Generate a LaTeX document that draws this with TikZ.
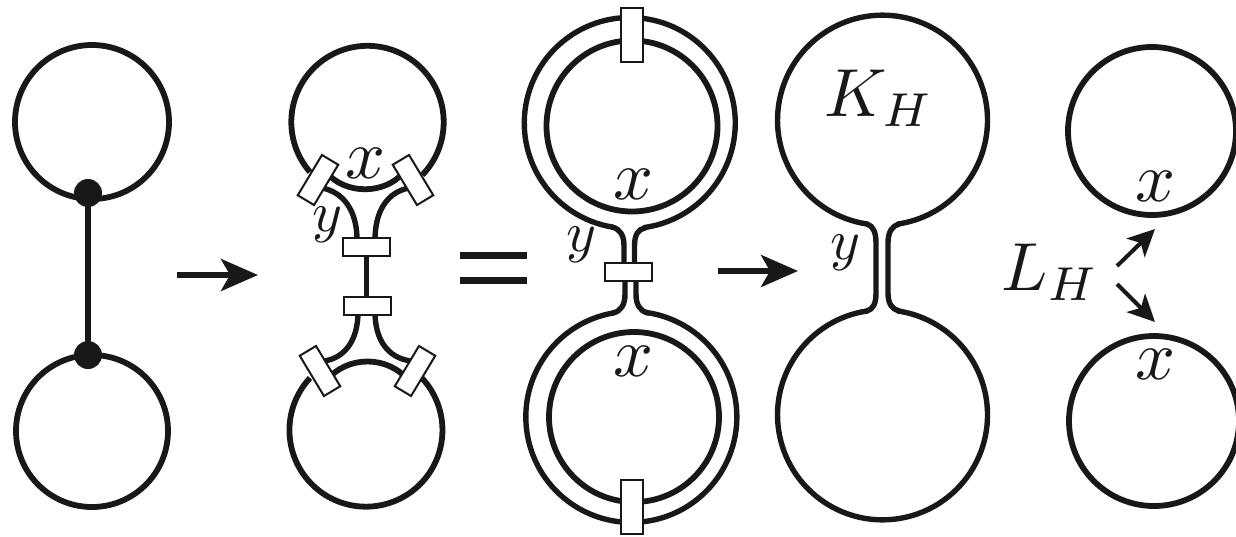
\documentclass[tikz,border=0pt]{standalone}
\usetikzlibrary{arrows.meta}
\definecolor{ink}{HTML}{1A1718}
\tikzset{
  wire/.style={draw=ink,line width=5.8pt},
  tube/.style={draw=ink,line width=5.4pt,line cap=round},
  junction/.style={circle,fill=ink,inner sep=0pt,minimum size=28pt},
  band/.style={draw=ink,fill=white,line width=2pt,inner sep=0pt,minimum width=47pt,minimum height=18pt},
  tiltband/.style={draw=ink,fill=white,line width=2pt,inner sep=0pt,minimum width=47pt,minimum height=19pt},
  vband/.style={draw=ink,fill=white,line width=2pt,inner sep=0pt,minimum width=22pt,minimum height=54pt},
  bigarrow/.style={draw=ink,line width=5.4pt,-{Stealth[length=37pt,width=32pt,inset=9pt]}},
  smallarrow/.style={draw=ink,line width=4pt,-{Stealth[length=27pt,width=26pt,inset=7pt]}},
  lab/.style={text=ink,inner sep=0pt,scale=7},
  laby/.style={text=ink,inner sep=0pt,scale=5.7},
  biglab/.style={text=ink,inner sep=0pt,scale=6.8},
}
\begin{document}
\begin{tikzpicture}[yscale=-1,x=1pt,y=1pt]
\useasboundingbox (0,0) rectangle (1236,536);
% panel 1
\draw[wire] (92,122) circle[radius=77];
\draw[wire] (92,431) circle[radius=76];
\node[junction] (d1) at (88,193) {};
\node[junction] (d2) at (88,355) {};
\draw[wire] (d1) -- (d2);
\coordinate (a1s) at (177,275);
\coordinate (a1e) at (258,275);
\draw[bigarrow] (a1s) -- (a1e);
% panel 2
\draw[wire] (310,172) arc[start angle=139,end angle=404,radius=76.2];
\draw[wire] (326,172) .. controls (345,195) and (385,195) .. (404,172);
\draw[tube] (322,188) .. controls (343,192) and (357,210) .. (357,240);
\draw[tube] (409,188) .. controls (388,192) and (375,210) .. (375,240);
\draw[tube] (358,312) .. controls (358,340) and (345,358) .. (324,361);
\draw[tube] (375,312) .. controls (375,340) and (388,358) .. (411,361);
\draw[wire] (326,381) .. controls (347,355) and (388,355) .. (409,381);
\draw[wire] (310,378) arc[start angle=223,end angle=-43,radius=76.5];
\node[band] (b1) at (366.5,247) {};
\node[band] (b2) at (367.5,306) {};
\draw[wire] (b1.south) -- (b1.south |- b2.north);
\node[tiltband,rotate=59] (t1) at (318,180) {};
\node[tiltband,rotate=-59] (t2) at (413,180) {};
\node[tiltband,rotate=-59] (t3) at (320,371) {};
\node[tiltband,rotate=59] (t4) at (415,371) {};
\node[lab] (x1) at (365,163) {$x$};
\node[laby] (y1) at (327,225) {$y$};
% equals
\coordinate (e1a) at (460,255); \coordinate (e1b) at (527,255);
\coordinate (e2a) at (460,280); \coordinate (e2b) at (527,280);
\draw[draw=ink,line width=7pt] (e1a) -- (e1b);
\draw[draw=ink,line width=7pt] (e2a) -- (e2b);
% panel 3
\draw[wire] (632,126) circle[radius=85.5];
\draw[wire] (634,417) circle[radius=85];
\draw[tube] (612,227) arc[start angle=99.7,end angle=442,radius=105.5];
\draw[tube] (612,227) .. controls (620,229) and (624,235) .. (624,246) -- (624,263);
\draw[tube] (645,228) .. controls (638,229) and (634.500,235) .. (634.500,246) -- (634.500,263);
\draw[tube] (613,313) arc[start angle=260,end angle=-82,radius=105.5];
\draw[tube] (613,313) .. controls (621,311) and (625,305) .. (625,294) -- (625,280);
\draw[tube] (648,313) .. controls (640,311) and (636,305) .. (636,294) -- (636,280);
\node[band] (b3) at (628.500,271.500) {};
\node[vband] (v1) at (632,35) {};
\node[vband] (v2) at (632,507) {};
\node[lab] (x2) at (633,184) {$x$};
\node[lab] (x3) at (633,361) {$x$};
\node[laby] (y2) at (581,245) {$y$};
\coordinate (a2s) at (718,271);
\coordinate (a2e) at (798,271);
\draw[bigarrow] (a2s) -- (a2e);
% panel 4
\draw[tube] (867,224) arc[start angle=98.5,end angle=441.500,radius=105];
\draw[tube] (867,224) .. controls (873,226) and (876,232) .. (876,243) -- (876,293) .. controls (876,304) and (873,309) .. (867,311);
\draw[tube] (899,224) .. controls (892,226) and (888,232) .. (888,243) -- (888,293) .. controls (888,304) and (892,309) .. (899,311);
\draw[tube] (867,311) arc[start angle=261.500,end angle=-81.500,radius=105];
\node[biglab] (k) at (879,98) {$K_H$};
\node[laby] (y3) at (845,253) {$y$};
% panel 5
\draw[wire] (1152,131) circle[radius=84];
\draw[wire] (1154,421) circle[radius=85];
\node[lab] (x4) at (1155,186) {$x$};
\node[lab] (x5) at (1155,364) {$x$};
\node[biglab] (l) at (1050,272) {$L_H$};
\coordinate (s1) at (1117,266);
\coordinate (t1e) at (1155,229);
\coordinate (s2) at (1117,284);
\coordinate (t2e) at (1155,322);
\draw[smallarrow] (s1) -- (t1e);
\draw[smallarrow] (s2) -- (t2e);
\end{tikzpicture}
\end{document}
